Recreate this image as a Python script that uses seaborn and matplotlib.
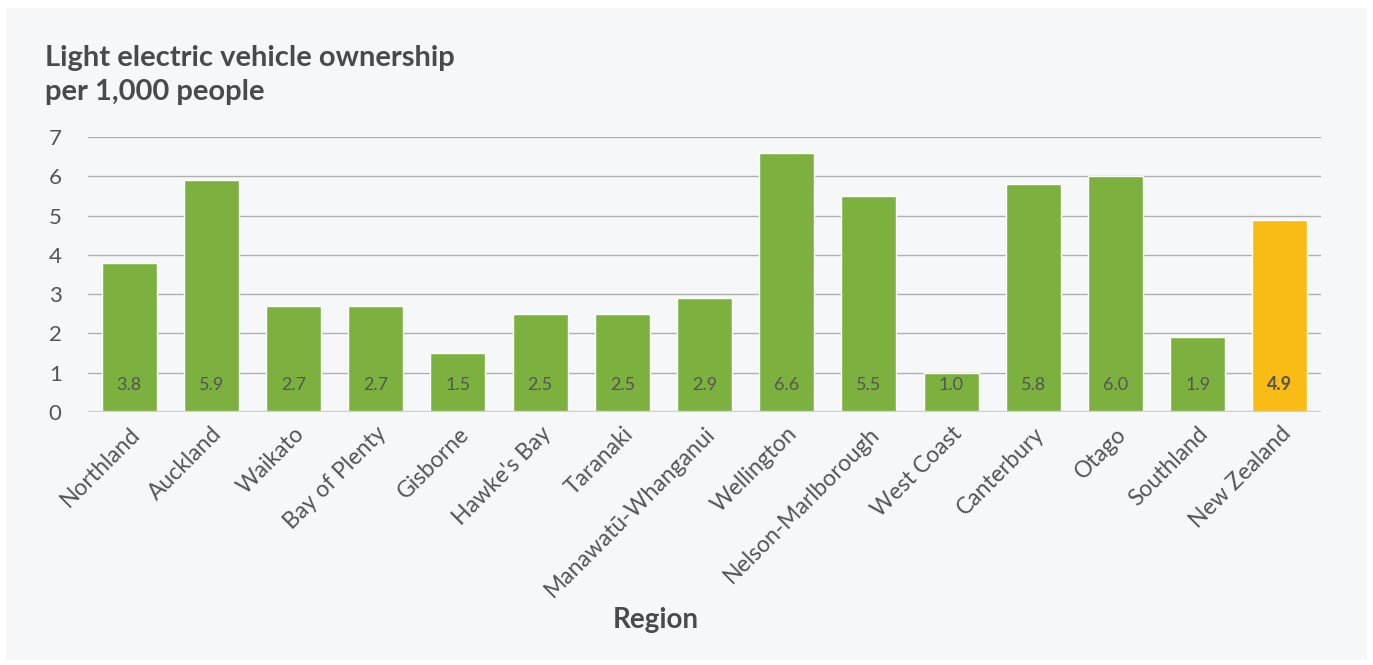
import matplotlib
matplotlib.use("Agg")
import matplotlib.pyplot as plt
from matplotlib.patches import Rectangle
import seaborn as sns
import pandas as pd

regions = ["Northland", "Auckland", "Waikato", "Bay of Plenty", "Gisborne",
           "Hawke's Bay", "Taranaki", "Manawatū-Whanganui", "Wellington",
           "Nelson-Marlborough", "West Coast", "Canterbury", "Otago",
           "Southland", "New Zealand"]
ev_per_1000 = [3.8, 5.9, 2.7, 2.7, 1.5, 2.5, 2.5, 2.9, 6.6, 5.5, 1.0, 5.8, 6.0, 1.9, 4.9]
kind = ["Region"] * 14 + ["National"]
y_ticks = [0, 1, 2, 3, 4, 5, 6, 7]

GREEN = "#7db13f"
YELLOW = "#f8bc14"
PANEL = "#f6f7f9"
TEXT = "#4a4a4a"
FONT = ["Lato", "DejaVu Sans"]

df = pd.DataFrame({"region": regions, "value": ev_per_1000, "kind": kind})

sns.set_style("white")
plt.rcParams["font.family"] = FONT

W, H = 1373, 665
fig = plt.figure(figsize=(W / 100, H / 100), dpi=100, facecolor="white")
fig.patches.append(Rectangle((6 / W, 5 / H), (W - 12) / W, (H - 13) / H,
                             transform=fig.transFigure, facecolor=PANEL,
                             edgecolor="none", zorder=-10))

ax = fig.add_axes([88 / W, 1 - 412 / H, (1321 - 88) / W, (412 - 137) / H])
ax.set_facecolor(PANEL)

sns.barplot(data=df, x="region", y="value", hue="kind",
            palette={"Region": GREEN, "National": YELLOW},
            width=0.67, legend=False, ax=ax, zorder=3, saturation=1)

ax.set_ylim(0, 7)
ax.set_xlim(-0.5, 14.5)
ax.set_yticks(y_ticks)
ax.yaxis.grid(True, color="#b0b0b0", linewidth=1.0, zorder=0)
ax.set_axisbelow(True)
for s in ax.spines.values():
    s.set_visible(False)
ax.axhline(0, color="#d0d0d0", linewidth=2.5, zorder=4)

ax.tick_params(axis="y", length=0, pad=19, labelsize=16, labelcolor="#555555")
ax.tick_params(axis="x", length=0, pad=8, labelsize=16.5, labelcolor="#555555")
plt.setp(ax.get_xticklabels(), rotation=45, ha="right", rotation_mode="anchor")

ax.set_xlabel("")
ax.set_ylabel("")

for i, v in enumerate(ev_per_1000):
    last = i == len(ev_per_1000) - 1
    ax.text(i, 0.7, f"{v:.1f}", ha="center", va="center", fontsize=13,
            color="#555555", fontweight="bold" if last else "normal", zorder=5)

fig.text(45 / W, 1 - 45 / H, "Light electric vehicle ownership\nper 1,000 people",
         ha="left", va="top", fontsize=21, fontweight="bold", color=TEXT,
         linespacing=1.4)
fig.text(656 / W, 1 - 620 / H, "Region", ha="center", va="center",
         fontsize=20, fontweight="bold", color=TEXT)

fig.savefig("out.png", dpi=100, facecolor="white")
